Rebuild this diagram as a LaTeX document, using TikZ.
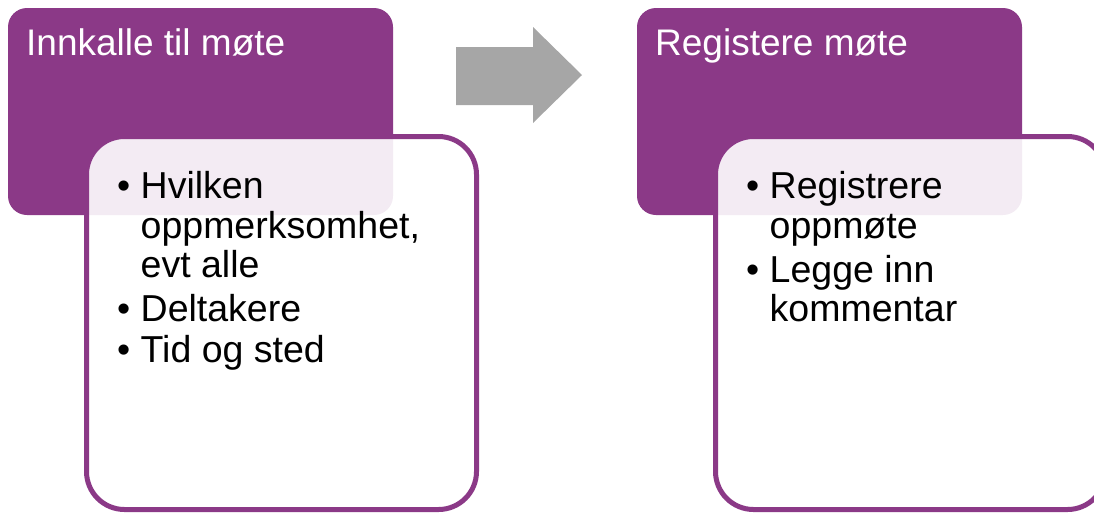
\documentclass[tikz,border=0pt]{standalone}
\usepackage{fontspec}
\setmainfont{Liberation Sans}
\definecolor{plum}{RGB}{139,57,135}
\definecolor{arrowgray}{RGB}{166,166,166}
\begin{document}
\begin{tikzpicture}[x=1pt,y=-1pt,
  headbox/.style={fill=plum, draw=none, rounded corners=19pt, inner sep=0pt, outer sep=0pt, anchor=north west},
  listbox/.style={fill=white, fill opacity=0.9, draw=plum, draw opacity=1, line width=5pt, rounded corners=38pt, inner sep=0pt, outer sep=0pt, anchor=north west},
  headtext/.style={anchor=base west, inner sep=0pt, text=white, font=\fontsize{37}{44}\selectfont},
  itemtext/.style={anchor=base west, inner sep=0pt, text=black, font=\fontsize{37.5}{44}\selectfont},
]
\useasboundingbox (0,0) rectangle (1094,512);
\clip (0,0) rectangle (1094,512);
% left stage
\node[headbox, minimum width=385pt, minimum height=207pt] (h1) at (8,8) {};
\node[listbox, minimum width=390pt, minimum height=373pt] (l1) at (86.5,136.5) {};
% right stage
\node[headbox, minimum width=385pt, minimum height=207pt] (h2) at (637,8) {};
\node[listbox, minimum width=390pt, minimum height=373pt] (l2) at (715.5,136.5) {};
% arrow
\fill[arrowgray] (456,47) -- (533,47) -- (533,27) -- (582,75) -- (533,123) -- (533,105) -- (456,105) -- cycle;
% titles
\node[headtext] (t1) at (26,55) {Innkalle til møte};
\node[headtext] (t2) at (655,55) {Registere møte};
% left list
\node[itemtext] (b1) at (117,198) {•};
\node[itemtext] (i1a) at (140.5,198) {Hvilken};
\node[itemtext] (i1b) at (140.5,238) {oppmerksomhet,};
\node[itemtext] (i1c) at (140.5,277) {evt alle};
\node[itemtext] (b2) at (117,321) {•};
\node[itemtext] (i2) at (140.5,321) {Deltakere};
\node[itemtext] (b3) at (117,362) {•};
\node[itemtext] (i3) at (140.5,362) {Tid og sted};
% right list
\node[itemtext] (b4) at (746,198) {•};
\node[itemtext] (i4a) at (769.5,198) {Registrere};
\node[itemtext] (i4b) at (769.5,238) {oppmøte};
\node[itemtext] (b5) at (746,282) {•};
\node[itemtext] (i5a) at (769.5,282) {Legge inn};
\node[itemtext] (i5b) at (769.5,321) {kommentar};
\end{tikzpicture}
\end{document}
